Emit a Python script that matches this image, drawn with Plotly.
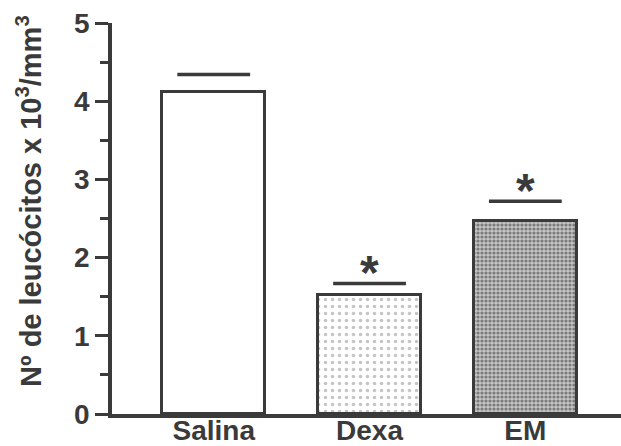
import plotly.graph_objects as go

# Leukocyte counts (x10^3/mm^3) per treatment group
groups = ["Salina", "Dexa", "EM"]
means = [4.12, 1.52, 2.47]
sem = [0.22, 0.15, 0.25]
signif = ["", "*", "*"]

y_ticks = [0, 1, 2, 3, 4, 5]
y_title = "Nº de leucócitos x 10<sup>3</sup>/mm<sup>3</sup>"

INK = "#3a3a3a"
FAMILY = "Liberation Sans, Arial, sans-serif"
LABEL_FONT = dict(family=FAMILY, size=28, color=INK, weight="bold")

fig = go.Figure()

# Bars with their fill patterns
patterns = [
    dict(shape=""),
    dict(shape=".", size=7, solidity=0.2, fgcolor="#8a8a8a", bgcolor="white", fillmode="overlay"),
    dict(shape=".", size=4, solidity=0.5, fgcolor="#303030", bgcolor="#c4c4c4", fillmode="overlay"),
]
for g, m, p in zip(groups, means, patterns):
    fig.add_trace(go.Bar(
        x=[g], y=[m], width=0.662,
        marker=dict(color="white", line=dict(color=INK, width=3), pattern=p),
        showlegend=False,
    ))

# Upper SEM caps (horizontal marks only)
caps = [m + s for m, s in zip(means, sem)]
fig.add_trace(go.Scatter(
    x=groups, y=caps, mode="markers",
    marker=dict(symbol="line-ew-open", size=52, color=INK, line=dict(color=INK, width=3.5)),
    showlegend=False, hoverinfo="skip",
))

# Significance markers above the caps
for g, c, s in zip(groups, caps, signif):
    if s:
        fig.add_annotation(
            x=g, y=c, text=s, showarrow=False, yanchor="bottom", yshift=-18,
            font=dict(family=FAMILY, size=48, color=INK, weight="bold"),
        )

# Rotated y-axis title
fig.add_annotation(
    xref="paper", yref="paper", x=-0.163, y=0.545,
    text=y_title, textangle=-90, showarrow=False,
    xanchor="center", yanchor="middle",
    font=dict(family=FAMILY, size=29, color=INK, weight="bold"),
)

fig.update_layout(
    width=621, height=446,
    margin=dict(l=112, r=0, t=23, b=32),
    paper_bgcolor="white", plot_bgcolor="white",
    font=dict(family=FAMILY, size=28, color=INK),
    bargap=0,
)

fig.update_xaxes(
    type="category", range=[-0.653, 2.614], automargin=False,
    showline=True, linecolor=INK, linewidth=3.5,
    ticks="", showgrid=False, zeroline=False,
    tickfont=LABEL_FONT, ticklabelstandoff=-11,
)
fig.update_yaxes(
    range=[0, 5], tickvals=y_ticks, automargin=False,
    showline=True, linecolor=INK, linewidth=3.5,
    ticks="outside", ticklen=13, tickwidth=3, tickcolor=INK,
    minor=dict(dtick=0.5, ticks="outside", ticklen=8, tickwidth=3, tickcolor=INK),
    showgrid=False, zeroline=False,
    tickfont=LABEL_FONT,
)

fig.write_html("out.html")
